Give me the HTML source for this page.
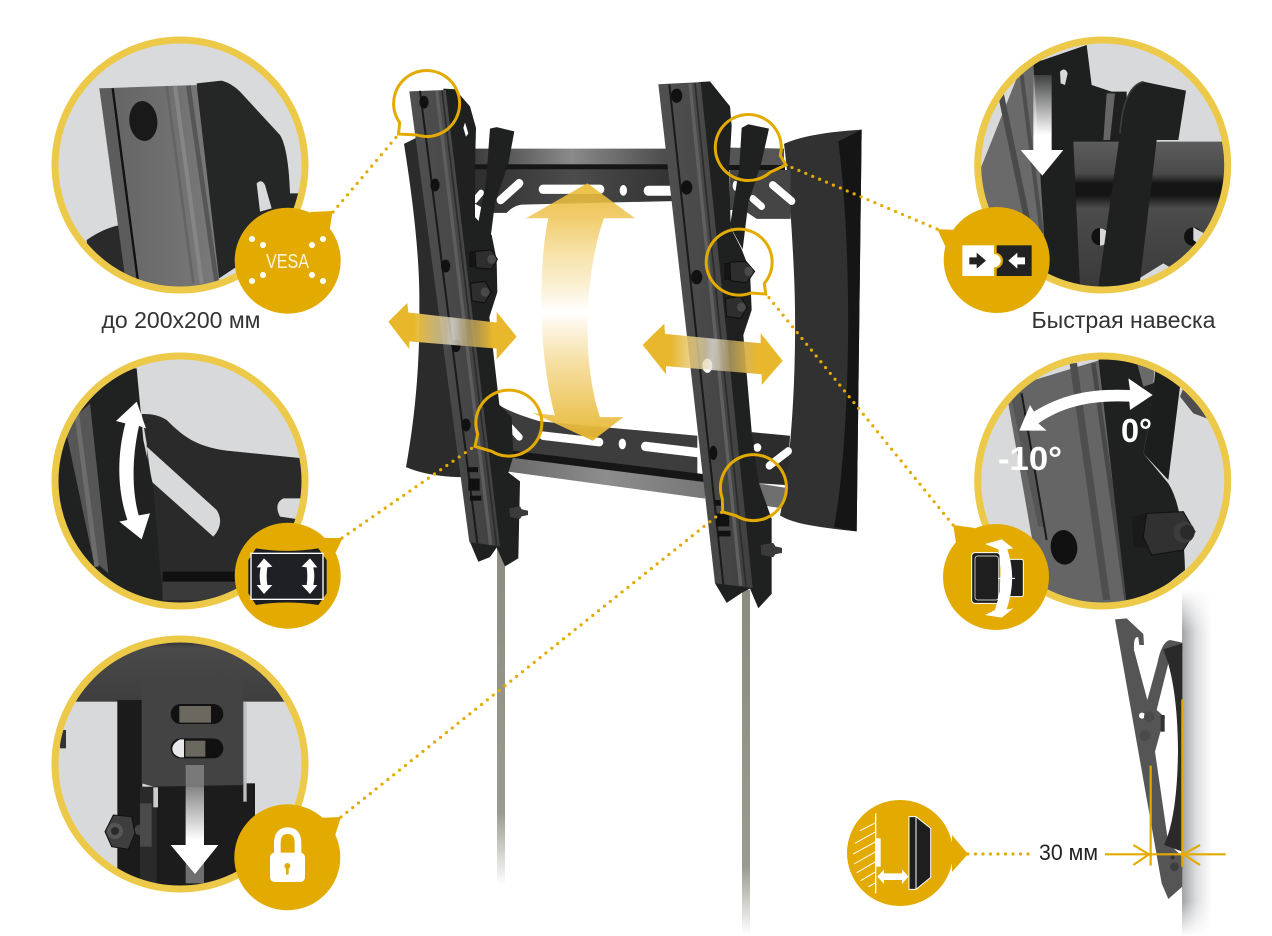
<!DOCTYPE html>
<html lang="ru"><head><meta charset="utf-8"><title>Кронштейн</title>
<style>html,body{margin:0;padding:0;background:#fff}svg{display:block}text{font-family:"Liberation Sans","Noto Sans CJK SC",sans-serif}</style></head>
<body>
<svg xmlns="http://www.w3.org/2000/svg" width="1272" height="936" viewBox="0 0 1272 936">
<defs>
<clipPath id="c1"><circle cx="180" cy="165" r="125"/></clipPath>
<clipPath id="c2"><circle cx="180" cy="481" r="125"/></clipPath>
<clipPath id="c3"><circle cx="180" cy="764" r="125"/></clipPath>
<clipPath id="c4"><circle cx="1102.7" cy="165" r="125"/></clipPath>
<clipPath id="c5"><circle cx="1102.7" cy="481" r="125"/></clipPath>
<linearGradient id="bar" x1="0" x2="1" y1="0" y2="0"><stop offset="0" stop-color="#3c3c3c"/><stop offset=".5" stop-color="#8a8a8a"/><stop offset="1" stop-color="#4a4a4a"/></linearGradient>
<linearGradient id="bar2" x1="0" x2="1" y1="0" y2="0"><stop offset="0" stop-color="#6a6a6a"/><stop offset=".5" stop-color="#8d8d8d"/><stop offset="1" stop-color="#777"/></linearGradient>
<linearGradient id="plate" x1="0" x2="1"><stop offset="0" stop-color="#2e2e2e"/><stop offset=".5" stop-color="#4c4c4c"/><stop offset="1" stop-color="#333"/></linearGradient>
<linearGradient id="railg" x1="0" x2="1"><stop offset="0" stop-color="#505050"/><stop offset="1" stop-color="#404040"/></linearGradient>
<linearGradient id="vert" x1="0" x2="0" y1="0" y2="1"><stop offset="0" stop-color="#e9b92e" stop-opacity=".9"/><stop offset=".13" stop-color="#eec352" stop-opacity=".85"/><stop offset=".3" stop-color="#f6dfa0" stop-opacity=".8"/><stop offset=".5" stop-color="#fff" stop-opacity="1"/><stop offset=".72" stop-color="#f4d88f" stop-opacity=".9"/><stop offset="1" stop-color="#e6b52a" stop-opacity=".95"/></linearGradient>
<linearGradient id="horz" x1="0" x2="1" y1="0" y2="0"><stop offset="0" stop-color="#e8b72c"/><stop offset=".2" stop-color="#e8b72c"/><stop offset=".45" stop-color="#e6d8b0" stop-opacity=".75"/><stop offset=".5" stop-color="#e4e2dc" stop-opacity=".8"/><stop offset=".62" stop-color="#b8a268" stop-opacity=".8"/><stop offset=".82" stop-color="#e8b72c"/><stop offset="1" stop-color="#e8b72c"/></linearGradient>
<linearGradient id="pole" x1="0" x2="0" y1="0" y2="1"><stop offset="0" stop-color="#8b8b80"/><stop offset=".8" stop-color="#9a9a90"/><stop offset="1" stop-color="#fff"/></linearGradient>
<linearGradient id="sh" x1="0" x2="1" y1="0" y2="0"><stop offset="0" stop-color="#a2a4a8"/><stop offset=".5" stop-color="#dfe0e2"/><stop offset="1" stop-color="#fff"/></linearGradient>
<linearGradient id="shv" x1="0" x2="0" y1="0" y2="1"><stop offset="0" stop-color="#fff"/><stop offset=".12" stop-color="#fff" stop-opacity="0"/><stop offset=".9" stop-color="#fff" stop-opacity="0"/><stop offset="1" stop-color="#fff"/></linearGradient>
<linearGradient id="arrd" x1="0" x2="0" y1="0" y2="1"><stop offset="0" stop-color="#fff" stop-opacity=".15"/><stop offset=".8" stop-color="#fff"/></linearGradient>
<linearGradient id="face" x1="0" x2="1"><stop offset="0" stop-color="#626262"/><stop offset="1" stop-color="#7a7a7a"/></linearGradient>
<linearGradient id="band" x1="0" x2="0" y1="0" y2="1"><stop offset="0" stop-color="#707070"/><stop offset=".1" stop-color="#222"/><stop offset=".25" stop-color="#4a4a4a"/><stop offset="1" stop-color="#3e3e3e"/></linearGradient>
<linearGradient id="hb" x1="0" x2="0" y1="0" y2="1"><stop offset="0" stop-color="#5c5c5c"/><stop offset=".22" stop-color="#4a4a4a"/><stop offset=".29" stop-color="#151515"/><stop offset=".37" stop-color="#151515"/><stop offset=".46" stop-color="#4c4c4c"/><stop offset="1" stop-color="#3a3a3a"/></linearGradient>
</defs>
<rect width="1272" height="936" fill="#fff"/>

<!-- poles -->
<rect x="497" y="520" width="8" height="365" fill="url(#pole)"/>
<rect x="742" y="590" width="8" height="345" fill="url(#pole)"/>

<!-- MAIN MOUNT -->
<g transform="translate(380,60) scale(.33333,.35714)">
<!-- panels -->
<path d="M72,235 L115,215 L300,1165 L235,1168 Q140,1165 78,1140 C105,1000 120,850 118,690 C120,560 100,400 72,235Z" fill="#2b2b2b"/>
<path d="M1212,235 Q1280,205 1445,195 L1430,1320 C1330,1310 1240,1300 1200,1275 C1240,1100 1252,800 1242,600 C1235,450 1225,330 1212,235Z" fill="#313131"/>
<path d="M1375,228 L1445,195 L1430,1320 L1362,1308 C1405,1100 1425,600 1375,228Z" fill="#151515"/>
<!-- top bars -->
<path d="M280,248 L870,248 L870,295 L280,295Z" fill="url(#bar)"/>
<rect x="280" y="292" width="590" height="16" fill="#161616"/>
<path d="M280,306 L875,306 L875,395 L425,405 Q400,408 380,428 L335,428 L280,400Z" fill="url(#plate)"/>
<path d="M1035,245 L1212,248 L1212,298 L1035,295Z" fill="#555"/>
<rect x="1035" y="294" width="180" height="14" fill="#151515"/>
<path d="M1050,308 L1232,308 L1232,445 L1130,445 L1090,420 L1050,420Z" fill="#454545"/>
<g stroke="#fff" stroke-linecap="round" fill="none">
<path d="M362,392 L418,345" stroke-width="24"/>
<path d="M489,362 L660,362" stroke-width="26"/>
<path d="M805,366 L880,366" stroke-width="28"/>
<path d="M285,392 L303,372" stroke-width="18"/>
<path d="M1178,350 L1235,395" stroke-width="22"/>
<path d="M1118,388 L1145,410" stroke-width="20"/>
</g>
<ellipse cx="730" cy="365" rx="11" ry="15" fill="#fff"/>
<ellipse cx="1066" cy="352" rx="8" ry="14" fill="#fff"/>
<!-- bottom bars -->
<path d="M360,968 Q400,990 480,1012 L952,1052 L952,1165 L380,1095Z" fill="#3d3d3d"/>
<path d="M380,1110 L975,1178 L975,1228 L380,1152Z" fill="url(#bar2)"/>
<path d="M380,1092 L975,1160 L975,1182 L380,1112Z" fill="#161616"/>
<path d="M1115,1042 L1230,1052 L1225,1135 L1215,1190 L1130,1185Z" fill="#2c2c2c"/>
<path d="M1130,1185 L1218,1198 L1206,1255 L1130,1245Z" fill="#6e6e6e"/>
<g stroke="#fff" stroke-linecap="round" fill="none">
<path d="M370,1008 L418,1056" stroke-width="20"/>
<path d="M490,1052 L658,1070" stroke-width="24"/>
<path d="M796,1082 L960,1100" stroke-width="26"/>
<path d="M1168,1136 L1225,1095" stroke-width="22"/>
</g>
<ellipse cx="727" cy="1075" rx="11" ry="15" fill="#fff"/>
<circle cx="1132" cy="1085" r="12" fill="#fff"/>
<!-- left bracket -->
<path d="M190,80 L225,82 L270,130 L288,190 L285,300 L285,440 L335,490 L350,560 L352,650 L328,720 L345,860 L358,965 L395,1000 L400,1110 L385,1155 L420,1180 L415,1395 L375,1418 L350,1365 L330,1392 L295,1405 L270,1350Z" fill="#1f2020"/>
<path d="M330,192 L350,188 L403,200 L385,290 L345,400 L332,495 L290,480 L318,340Z" fill="#1f2020"/>
<path d="M255,175 L265,205 L258,215 L250,190Z" fill="#fff"/>
<!-- right bracket -->
<path d="M955,62 L990,60 L1050,130 L1055,185 L1048,300 L1052,470 L1085,530 L1110,590 L1115,700 L1090,770 L1115,1040 L1135,1180 L1175,1285 L1175,1495 L1135,1535 L1110,1480 L1085,1492 L1040,1520 L1005,1465Z" fill="#1f2020"/>
<path d="M1085,190 L1105,180 L1167,192 L1145,285 L1105,400 L1088,530 L1050,465 L1078,300Z" fill="#1f2020"/>
<!-- left rail -->
<path d="M88,88 L197,84 L360,1362 L268,1350Z" fill="url(#railg)"/>
<path d="M120,86 L292,1352" stroke="#1a1a1a" stroke-width="6"/>
<path d="M170,86 L332,1358" stroke="#5e5e5e" stroke-width="10"/>
<path d="M186,85 L350,1360" stroke="#2c2c2c" stroke-width="5"/>
<!-- right rail -->
<path d="M835,68 L962,62 L1118,1478 L1005,1465Z" fill="url(#railg)"/>
<path d="M868,68 L1030,1468" stroke="#1a1a1a" stroke-width="6"/>
<path d="M930,66 L1082,1472" stroke="#606060" stroke-width="10"/>
<path d="M945,65 L1098,1475" stroke="#2c2c2c" stroke-width="5"/>
<!-- holes -->
<g fill="#111">
<ellipse cx="132" cy="118" rx="14" ry="18"/><ellipse cx="165" cy="350" rx="14" ry="18"/><ellipse cx="197" cy="577" rx="14" ry="18"/><ellipse cx="228" cy="800" rx="14" ry="18"/><ellipse cx="258" cy="1022" rx="14" ry="18"/>
<ellipse cx="890" cy="100" rx="17" ry="20"/><ellipse cx="920" cy="357" rx="17" ry="20"/><ellipse cx="950" cy="608" rx="17" ry="20"/><ellipse cx="1000" cy="1100" rx="12" ry="20"/>
<rect x="262" y="1140" width="32" height="14"/><rect x="265" y="1172" width="34" height="34"/><rect x="270" y="1220" width="34" height="14"/>
<rect x="1003" y="1232" width="28" height="16"/><rect x="1008" y="1270" width="40" height="36"/><rect x="1014" y="1318" width="38" height="16"/>
</g>
<ellipse cx="982" cy="856" rx="15" ry="20" fill="#fff"/>
<!-- nuts -->
<g fill="#2e2e2e" stroke="#0f0f0f" stroke-width="3">
<rect x="270" y="538" width="22" height="40" fill="#161616"/><path d="M285,536 L335,532 L352,558 L335,585 L288,582Z"/>
<path d="M272,625 L315,620 L334,650 L314,680 L276,675Z"/>
<rect x="1035" y="570" width="20" height="44" fill="#161616"/><path d="M1050,566 L1098,564 L1124,592 L1100,624 L1052,618Z"/>
<path d="M1036,668 L1082,662 L1102,692 L1082,724 L1040,718Z"/>
</g>
<g fill="#4a4a4a"><circle cx="335" cy="558" r="13"/><circle cx="315" cy="650" r="13"/><circle cx="1106" cy="592" r="13"/><circle cx="1084" cy="692" r="13"/></g>
<g fill="#3a3a3a"><path d="M388,1255 L420,1250 L425,1258 L444,1262 L444,1274 L425,1278 L420,1285 L390,1280Z"/><path d="M1142,1358 L1180,1352 L1186,1362 L1206,1366 L1206,1380 L1186,1384 L1180,1392 L1144,1386Z"/></g>
<!-- arrows -->
<path d="M438,443 L622,345 L765,443 L672,443 C612,600 605,850 660,1000 L730,1000 L638,1066 L458,988 L525,995 C480,850 470,600 505,443Z" fill="url(#vert)"/>
<path d="M25,733 L82,680 L85,707 L350,735 L350,705 L410,775 L350,838 L350,808 L88,788 L88,810Z" fill="url(#horz)"/>
<path d="M788,798 L853,738 L855,767 L1142,793 L1142,765 L1208,842 L1145,910 L1145,880 L858,857 L858,880Z" fill="url(#horz)"/>
</g>

<!-- dotted connectors -->
<g stroke="#e3ab00" stroke-width="3.2" stroke-linecap="round" stroke-dasharray="0 7.5" fill="none">
<path d="M333,212 L398,135"/>
<path d="M342,538 L475,446"/>
<path d="M341,817 L722,512"/>
<path d="M937,229 L786,165"/>
<path d="M953,525 L766,294"/>
<path d="M968,854 L1035,854"/>
</g>

<!-- callout rings -->
<g fill="none" stroke="#e3ab00" stroke-width="3">
<path d="M399.7,122.6 A33,33 0 1 1 416.7,135 L398.5,134Z"/>
<path d="M780.3,155.5 A33,33 0 1 0 770.3,172.1 L786,165Z"/>
<path d="M764.3,283.5 A33,33 0 1 0 750.8,293 L765.7,294Z"/>
<path d="M477.7,434 A33,33 0 1 1 491.7,451.3 L475,446.4Z"/>
<path d="M722.3,498.5 A33,33 0 1 1 736.3,515.8 L722.7,512Z"/>
</g>

<!-- CIRCLE 1 -->
<circle cx="180" cy="165" r="125" fill="#d9dadc"/>
<g clip-path="url(#c1)"><g transform="translate(40,20) scale(.33333)">
<path d="M140,660 Q190,625 240,615 L300,800 L150,800Z" fill="#2a2a2a"/>
<path d="M470,190 L545,182 Q575,190 600,215 L720,345 Q745,385 750,520 L775,520 L740,640 L500,800 Z" fill="#252626"/>
<path d="M650,490 Q665,475 675,495 L695,565 L660,575Z" fill="#d9dadc"/>
<path d="M178,205 L470,195 L540,800 L290,800Z" fill="url(#face)"/>
<path d="M178,205 L216,205 L292,785 L255,770Z" fill="#5c5c5c"/>
<path d="M218,205 L294,785" stroke="#111" stroke-width="7"/>
<path d="M380,198 L460,790" stroke="#646464" stroke-width="8"/>
<path d="M445,197 L530,790" stroke="#565656" stroke-width="14"/>
<path d="M405,198 L485,790" stroke="#868686" stroke-width="12"/>
<ellipse cx="310" cy="303" rx="42" ry="60" transform="rotate(-6 310 303)" fill="#191919"/>
</g></g>
<circle cx="180" cy="165" r="125" fill="none" stroke="#edc94a" stroke-width="7"/>

<!-- CIRCLE 2 -->
<circle cx="180" cy="481" r="125" fill="#d8d9db"/>
<g clip-path="url(#c2)"><g transform="translate(40,340) scale(.33333)">
<path d="M305,222 Q350,220 380,240 C430,290 470,320 560,332 L790,355 L790,475 L730,475 Q700,490 720,530 L790,540 L790,800 L340,800 L320,310Z" fill="#2a2a2a"/>
<path d="M320,320 L530,510 Q555,550 520,590 L335,425Z" fill="#d8d9db"/>
<path d="M290,85 L310,300 L340,440 L370,800 L40,800 L40,85Z" fill="#202222"/>
<path d="M75,260 L150,190 L205,700 L160,660Z" fill="#565656"/>
<path d="M110,220 L170,680" stroke="#6d6d6d" stroke-width="14"/>
<rect x="368" y="695" width="240" height="85" fill="#3a3a3a"/><rect x="368" y="695" width="240" height="30" fill="#101010"/>
</g></g>
<g transform="translate(40,340) scale(.33333)">
<path d="M290,185 L318,265 L297,258 C276,350 275,450 296,526 L330,520 L305,598 L238,545 L262,540 C232,450 230,350 256,250 L228,243Z" fill="#fff"/>
</g>
<circle cx="180" cy="481" r="125" fill="none" stroke="#edc94a" stroke-width="7"/>

<!-- CIRCLE 3 -->
<circle cx="180" cy="764" r="125" fill="#d8d9db"/>
<g clip-path="url(#c3)"><g transform="translate(40,630) scale(.33333)">
<rect x="0" y="0" width="840" height="215" fill="url(#band)"/>
<rect x="60" y="300" width="18" height="55" fill="#333"/>
<rect x="232" y="210" width="75" height="600" fill="#1b1b1b"/>
<rect x="340" y="460" width="305" height="340" fill="#1c1c1c"/>
<rect x="610" y="215" width="10" height="300" fill="#bdbec0"/>
<rect x="300" y="470" width="50" height="300" fill="#2a2a2a"/>
<rect x="340" y="472" width="14" height="60" fill="#ccc"/>
<path d="M305,140 L610,130 L610,465 L340,470 L305,460Z" fill="#434343"/>
<rect x="392" y="222" width="158" height="60" rx="30" fill="#111"/>
<rect x="418" y="228" width="95" height="50" fill="#6b685f"/>
<rect x="392" y="325" width="158" height="60" rx="30" fill="#111"/>
<path d="M432,328 L420,328 Q397,340 397,356 Q397,375 420,382 L432,382Z" fill="#e8e8ea"/>
<rect x="436" y="332" width="60" height="48" fill="#6b685f"/>
<circle cx="300" cy="600" r="16" fill="#444"/>
<path d="M220,555 L275,560 L285,610 L265,658 L215,650 L195,605Z" fill="#3e3e3e" stroke="#111" stroke-width="3"/>
<circle cx="225" cy="603" r="24" fill="#555"/><circle cx="225" cy="603" r="12" fill="#2a2a2a"/>
<rect x="300" y="520" width="35" height="130" fill="#4a4a4a"/>
<rect x="437" y="405" width="55" height="355" fill="#8b8b8b" opacity=".75"/>
<rect x="437" y="470" width="55" height="200" fill="url(#arrd)"/>
<path d="M392,645 L535,645 L465,732Z" fill="#fff"/>
</g></g>
<circle cx="180" cy="764" r="125" fill="none" stroke="#edc94a" stroke-width="7"/>

<!-- CIRCLE 4 -->
<circle cx="1102.7" cy="165" r="125" fill="#d8d9db"/>
<g clip-path="url(#c4)"><g transform="translate(930,20) scale(.33333)">
<path d="M130,500 L270,150 L330,100 L440,800 L230,800Z" fill="#6a6a6a"/>
<path d="M210,210 L300,640" stroke="#4a4a4a" stroke-width="18"/>
<path d="M275,165 L335,640" stroke="#4e4e4e" stroke-width="12"/>
<path d="M310,130 L470,75 L485,195 L545,215 L590,215 L590,370 L440,370 L455,800 L352,800Z" fill="#1e1f1f"/>
<path d="M390,155 Q405,140 413,160 L405,195 L392,190Z" fill="#d8d9db"/>
<path d="M530,220 L555,220 L540,360 L520,360Z" fill="#666"/>
<path d="M430,365 L890,365 L890,800 L450,800Z" fill="url(#hb)"/>
<circle cx="510" cy="650" r="26" fill="#111"/><path d="M510,625 A26,26 0 0 1 510,677Z" fill="#d8d9db"/>
<circle cx="790" cy="650" r="28" fill="#111"/><path d="M790,622 L840,650 L830,690 L790,660Z" fill="#d8d9db"/>
<path d="M620,780 L700,730 L800,790 L660,800Z" fill="#d8d9db"/>
<path d="M505,800 L570,340 Q580,200 640,185 L768,212 L745,360 L680,360 L628,800Z" fill="#1f2020"/>
<path d="M570,340 Q580,200 640,185" stroke="#3c3c3c" stroke-width="5" fill="none"/>
<rect x="310" y="165" width="55" height="225" fill="url(#arrd)"/>
<path d="M272,390 L400,390 L337,467Z" fill="#fff"/>
</g></g>
<circle cx="1102.7" cy="165" r="125" fill="none" stroke="#edc94a" stroke-width="7"/>

<!-- CIRCLE 5 -->
<circle cx="1102.7" cy="481" r="125" fill="#d8d9db"/>
<g clip-path="url(#c5)"><g transform="translate(930,340) scale(.33333)">
<path d="M235,190 L280,130 L510,60 L640,790 L340,790Z" fill="#656565"/>
<path d="M245,180 L270,130 L340,560 L325,560Z" fill="#555"/>
<path d="M275,160 L350,600" stroke="#1a1a1a" stroke-width="6"/>
<path d="M430,70 L530,780" stroke="#4e4e4e" stroke-width="22"/>
<path d="M490,70 L590,780" stroke="#484848" stroke-width="14"/>
<path d="M505,55 L620,55 L680,140 L660,240 L640,340 L715,430 Q760,500 765,690 L640,790 L590,790Z" fill="#1f2020"/>
<path d="M620,65 L675,80 L670,130 L640,140Z" fill="#6a6a6a"/>
<path d="M680,55 L760,60 L715,420 L640,340 L660,240Z" fill="#1c1d1d"/>
<path d="M750,170 L790,220 L830,235 L860,150 L770,120Z" fill="#4e4e4e"/>
<ellipse cx="402" cy="622" rx="40" ry="52" transform="rotate(-6 402 622)" fill="#111"/>
<path d="M605,530 L650,520 L655,625 L610,620Z" fill="#1a1a1a"/>
<path d="M650,520 L760,515 L795,575 L760,630 L665,645 L640,590Z" fill="#313131" stroke="#111" stroke-width="3"/>
<circle cx="762" cy="577" r="32" fill="#3c3c3c"/><circle cx="772" cy="577" r="22" fill="#2a2a2a"/>
</g></g>
<circle cx="1102.7" cy="481" r="125" fill="none" stroke="#edc94a" stroke-width="7"/>
<g transform="translate(930,340) scale(.33333)">
<path d="M268,272 L300,195 L312,215 C400,160 490,145 600,150 L595,115 L668,165 L600,210 L598,185 C480,180 400,200 325,250 L350,272Z" fill="#fff"/>
</g>
<text x="998" y="470" font-size="33" font-weight="bold" fill="#fff" textLength="64" lengthAdjust="spacingAndGlyphs">-10°</text>
<text x="1121" y="442" font-size="33" font-weight="bold" fill="#fff" textLength="31" lengthAdjust="spacingAndGlyphs">0°</text>

<!-- BOTTOM RIGHT PROFILE -->
<rect x="1182" y="590" width="30" height="346" fill="url(#sh)"/>
<rect x="1182" y="590" width="30" height="346" fill="url(#shv)"/>
<g transform="translate(840,600) scale(.33333)">
<path d="M825,58 L860,55 L910,102 L912,135 L898,135 L895,112 Q880,106 882,150 L922,300 L952,190 Q965,125 990,120 L1027,128 L1027,150 L985,190 L950,330 L975,352 L960,400 L945,455 L985,730 L1027,770 L1027,860 L985,897 L965,850Z" fill="#555"/>
<path d="M970,148 L1027,130 L1027,755 L972,735 Q1012,650 1014,450 Q1012,250 970,148Z" fill="#2a2a2a"/>
<rect x="962" y="345" width="12" height="50" fill="#333"/>
<circle cx="906" cy="347" r="9" fill="#fff"/>
<circle cx="928" cy="350" r="16" fill="#4a4a4a"/><circle cx="915" cy="407" r="16" fill="#4a4a4a"/><circle cx="1003" cy="800" r="13" fill="#3e3e3e"/><circle cx="998" cy="772" r="6" fill="#333"/>
<g stroke="#e3ab00" stroke-width="6.5" fill="none">
<path d="M1027,298 L1027,800"/><path d="M932,497 L932,797"/>
<path d="M795,763 L1157,763"/>
<path d="M880,735 L927,763 L880,795"/><path d="M1080,735 L1030,763 L1080,795"/>
</g>
</g>

<!-- BADGES -->
<g fill="#e3ab02">
<circle cx="287.7" cy="260.7" r="53"/><path d="M310,212 L332.7,211 L328,240Z"/>
<circle cx="287.7" cy="575.7" r="53"/><path d="M318,538 L342.7,538 L332,560Z"/>
<circle cx="287.3" cy="857.3" r="53"/><path d="M316,818 L341,817 L333,842Z"/>
<circle cx="996.7" cy="260" r="53"/><path d="M962,230 L937.3,229.3 L948,252Z"/>
<circle cx="996" cy="577" r="53"/><path d="M975,528 L953.3,525 L957,550Z"/>
<circle cx="900" cy="853" r="53"/><path d="M952,835 L968,854 L952,872Z"/>
</g>

<!-- VESA badge content -->
<g fill="#fff">
<circle cx="252" cy="239" r="3"/><circle cx="263" cy="245" r="3"/><circle cx="323" cy="239" r="3"/><circle cx="312" cy="245" r="3"/>
<circle cx="252" cy="281" r="3"/><circle cx="263" cy="275" r="3"/><circle cx="323" cy="281" r="3"/><circle cx="312" cy="275" r="3"/>
</g>
<text x="266" y="268" font-size="20" fill="#fff6d8" textLength="43" lengthAdjust="spacingAndGlyphs">VESA</text>

<!-- rotate badge icon -->
<g transform="translate(40,340) scale(.33333)">
<path d="M648,625 Q740,640 835,625 L860,660 L860,760 L835,795 Q740,780 648,795 L625,760 L625,660Z" fill="#1c1e22"/>
<rect x="633" y="640" width="216" height="138" fill="#1e2024" stroke="#fff" stroke-width="4"/>
<path d="M672,655 L697,680 L682,682 Q678,708 682,735 L697,735 L672,762 L650,735 L662,735 Q656,708 662,682 L650,682Z" fill="#fff"/>
<path d="M810,655 L785,680 L800,682 Q804,708 800,735 L785,735 L810,762 L832,735 L820,735 Q826,708 820,682 L832,682Z" fill="#fff"/>
</g>

<!-- lock icon -->
<g transform="translate(40,630) scale(.33333)">
<path d="M712,672 V640 Q712,602 743,602 Q774,602 774,640 V672" stroke="#fff" stroke-width="20" fill="none"/>
<rect x="690" y="668" width="105" height="88" rx="14" fill="#fff"/>
<circle cx="742" cy="708" r="9" fill="#e3ab02"/><rect x="738" y="708" width="8" height="26" rx="3" fill="#e3ab02"/>
</g>

<!-- quick-hang icon -->
<g transform="translate(930,20) scale(.33333)">
<rect x="200" y="676" width="105" height="92" fill="#222"/>
<circle cx="195" cy="722" r="24" fill="#e3ab02"/>
<rect x="97" y="676" width="95" height="92" fill="#fff"/>
<circle cx="192" cy="722" r="20" fill="#fff"/>
<path d="M118,712 L140,712 L140,698 L168,722 L140,746 L140,733 L118,733Z" fill="#222"/>
<path d="M285,712 L262,712 L262,698 L235,722 L262,746 L262,733 L285,733Z" fill="#fff"/>
</g>

<!-- tilt icon -->
<g transform="translate(930,340) scale(.33333)">
<rect x="235" y="658" width="45" height="112" rx="6" fill="#1e1e1e" stroke="#fff" stroke-width="3"/>
<rect x="125" y="638" width="85" height="152" rx="10" fill="#1e1e1e" stroke="#fff" stroke-width="3"/>
<rect x="135" y="648" width="70" height="132" rx="8" fill="#1e1e1e" stroke="#fff" stroke-width="2"/>
<path d="M205,715 L255,715" stroke="#fff" stroke-width="3"/>
<path d="M165,612 L215,598 L250,625 L232,628 Q262,715 230,808 L250,805 L215,833 L165,825 L195,810 Q225,715 205,628Z" fill="#fff"/>
</g>

<!-- 30mm icon -->
<g transform="translate(840,600) scale(.33333)">
<path d="M107,640 L107,880" stroke="#fff" stroke-width="4"/>
<g stroke="#fff" stroke-width="3">
<path d="M107,668 L60,692"/><path d="M107,695 L45,730"/><path d="M107,725 L40,762"/><path d="M107,755 L42,792"/><path d="M107,785 L50,818"/><path d="M107,815 L62,842"/><path d="M107,848 L85,860"/>
</g>
<rect x="107" y="715" width="15" height="85" fill="#fff"/>
<path d="M112,830 L132,808 L132,820 L186,820 L186,808 L205,830 L186,852 L186,840 L132,840 L132,852Z" fill="#fff"/>
<path d="M207,650 L228,650 L272,685 L272,832 L228,868 L207,868Z" fill="#1e1e1e" stroke="#fff" stroke-width="3"/>
<path d="M228,650 L228,868" stroke="#fff" stroke-width="3"/>
</g>

<!-- labels -->
<text x="101.5" y="328" font-size="23" fill="#333" textLength="159" lengthAdjust="spacingAndGlyphs">до 200х200 мм</text>
<text x="1031.5" y="328" font-size="23" fill="#333" textLength="184" lengthAdjust="spacingAndGlyphs">Быстрая навеска</text>
<text x="1039" y="860" font-size="22" fill="#222" textLength="59" lengthAdjust="spacingAndGlyphs">30 мм</text>
</svg>
</body></html>
